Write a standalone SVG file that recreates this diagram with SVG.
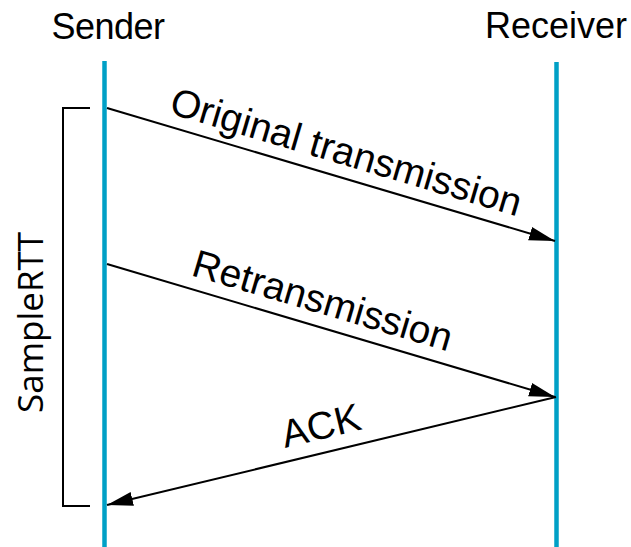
<svg xmlns="http://www.w3.org/2000/svg" width="631" height="547" viewBox="0 0 631 547">
  <style>
    .hdr { font-family: "Liberation Sans", Arial, sans-serif; font-size: 36px; fill: #000; text-anchor: middle; }
    .lbl { font-family: "Liberation Sans", Arial, sans-serif; font-size: 39px; fill: #000; }
    .rtt { font-family: "Open Sans", "Liberation Sans", sans-serif; font-size: 35px; fill: #000; }
    .life { stroke: #00a0c6; stroke-width: 4.5; fill: none; }
    .msg { stroke: #000; stroke-width: 2; fill: none; marker-end: url(#arr); }
    .brk { stroke: #000; stroke-width: 2; fill: none; }
  </style>
  <defs>
    <marker id="arr" markerUnits="userSpaceOnUse" markerWidth="28" markerHeight="16" refX="26" refY="8" orient="auto">
      <path d="M0,1 L26,8 L0,15 z" fill="#000"/>
    </marker>
  </defs>
  <rect width="631" height="547" fill="#fff"/>
  <g id="sender">
    <text class="hdr" x="108" y="39" letter-spacing="-0.5">Sender</text>
    <line class="life" x1="104.5" y1="61" x2="104.5" y2="547"/>
  </g>
  <g id="receiver">
    <text class="hdr" x="556" y="38">Receiver</text>
    <line class="life" x1="556.5" y1="62" x2="556.5" y2="547"/>
  </g>
  <g id="samplertt">
    <path class="brk" d="M90,108 H63 V506 H90"/>
    <text class="rtt" transform="translate(43,413) rotate(-90)">SampleRTT</text>
  </g>
  <g id="connectors">
    <line class="msg" x1="107" y1="108" x2="555" y2="241"/>
    <line class="msg" x1="107" y1="264" x2="555" y2="397"/>
    <line class="msg" x1="556" y1="397" x2="107" y2="505"/>
    <text class="lbl" transform="translate(168,113) rotate(16.5)">Original transmission</text>
    <text class="lbl" transform="translate(190,275) rotate(16.5)">Retransmission</text>
    <text class="lbl" transform="translate(285,448) rotate(-13.5)" font-size="38">ACK</text>
  </g>
</svg>
